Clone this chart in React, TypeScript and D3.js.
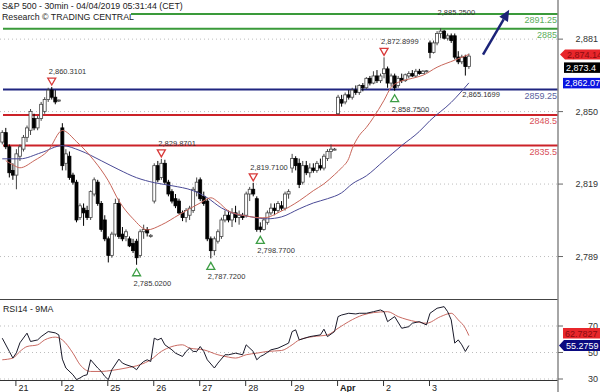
import React from 'react';
import * as d3 from 'd3';

// ---------- DATA ----------
// [open, high, low, close] per 30-min bar
const candles: [number, number, number, number][] = [
  [2837, 2842, 2836, 2841], [2841, 2843, 2834, 2835], [2835, 2836, 2822, 2824], [2825, 2828, 2821, 2823],
  // 21
  [2823, 2834, 2817, 2832], [2831, 2836, 2829, 2835], [2834, 2840, 2833, 2839], [2839, 2844, 2837, 2843],
  [2842, 2851, 2840, 2850], [2847, 2849, 2842, 2843], [2843, 2848, 2842, 2847], [2847, 2854, 2846, 2853],
  [2850, 2856, 2849, 2855], [2855, 2860, 2854, 2859], [2859, 2860.31, 2855, 2856], [2856, 2859, 2853, 2854],
  [2854.5, 2855, 2854, 2854.8],
  // 22
  [2843, 2845, 2825, 2827], [2828, 2834, 2825, 2832], [2831, 2833, 2821, 2822], [2823, 2824, 2819, 2820],
  [2820, 2821, 2803, 2804], [2805, 2811, 2804, 2810], [2809, 2811, 2801.5, 2807], [2808, 2810, 2804, 2805],
  [2805, 2816.5, 2804, 2816], [2815, 2822, 2814, 2821], [2820, 2821, 2810, 2811], [2811, 2812, 2799, 2800],
  [2804, 2806, 2795, 2796],
  // 25
  [2796, 2797, 2786, 2789], [2789, 2799, 2788, 2798], [2798, 2813, 2797, 2811], [2811, 2813, 2796, 2797],
  [2798, 2801, 2795, 2796], [2797, 2800, 2795, 2799], [2796, 2797, 2792.5, 2793], [2794, 2796, 2790, 2791],
  [2795, 2796, 2785.02, 2788], [2789, 2800, 2788, 2799], [2799, 2802, 2796, 2800], [2800, 2801, 2797, 2798.5],
  [2797, 2798, 2796.5, 2797.5],
  // 26
  [2812, 2828, 2811, 2827], [2827, 2829, 2820, 2821], [2822, 2829.87, 2821, 2828], [2828, 2829.5, 2819, 2820],
  [2820, 2821, 2814, 2815], [2816, 2817, 2811, 2812], [2813, 2815, 2809, 2810], [2812, 2813, 2806.5, 2807],
  [2807, 2808, 2803.5, 2805], [2805, 2809, 2803, 2808], [2806, 2810, 2804, 2809], [2808, 2818, 2807, 2817],
  [2816, 2822, 2814, 2820],
  // 27
  [2821, 2822, 2812, 2813], [2814, 2816, 2810, 2811], [2812, 2813, 2795, 2796], [2796, 2797, 2787.72, 2791],
  [2791, 2797, 2789, 2796], [2795, 2800, 2794, 2799], [2797, 2805, 2796, 2804], [2804, 2808, 2803, 2806],
  [2806, 2808, 2803, 2804], [2804, 2809, 2801, 2807], [2807, 2810, 2803, 2805], [2805, 2808, 2802, 2806],
  [2806, 2807, 2804, 2805],
  // 28
  [2806, 2816, 2805, 2815], [2815, 2818, 2812, 2817], [2817, 2819.71, 2814, 2815], [2813, 2814, 2799, 2800],
  [2801, 2803, 2798.77, 2800], [2800, 2805, 2799.5, 2804], [2803, 2808, 2802, 2807], [2807, 2811, 2806, 2809],
  [2809, 2811, 2806, 2808], [2808, 2812, 2807, 2811], [2810, 2812, 2808, 2809], [2809, 2816, 2808, 2815],
  [2815, 2817, 2813, 2816],
  // 29
  [2826, 2832, 2824, 2830], [2830, 2831, 2825, 2827], [2828, 2830, 2817.5, 2819], [2820, 2829, 2819, 2827],
  [2827, 2829, 2823, 2824], [2824, 2828, 2822, 2826], [2826, 2828, 2824, 2825], [2825, 2829, 2824, 2828],
  [2827, 2830, 2825, 2826], [2826, 2832, 2825, 2831], [2830, 2834, 2829, 2833], [2833, 2836, 2830, 2834],
  [2834, 2834.5, 2833.5, 2834],
  // Apr 1
  [2849, 2857, 2848.5, 2856], [2855, 2857, 2852, 2853.5], [2854, 2858, 2853, 2857], [2857, 2859, 2855, 2856],
  [2856, 2860, 2855, 2859], [2859, 2861, 2857, 2858], [2858, 2861.5, 2857, 2861], [2861, 2862, 2858.5, 2860],
  [2860, 2864.5, 2859.5, 2864], [2864, 2865, 2861, 2862], [2862, 2867, 2861.5, 2865], [2865, 2867.5, 2862, 2863],
  [2863, 2866, 2862, 2865],
  // 2
  [2866, 2872.9, 2864, 2868], [2868, 2869, 2860, 2862], [2862, 2866, 2860.5, 2865], [2865, 2866, 2858.75, 2860],
  [2861, 2865, 2860, 2864], [2864, 2866, 2862, 2863], [2863, 2866, 2862.5, 2865.5], [2865, 2867, 2864, 2866],
  [2866, 2867.5, 2864.5, 2865], [2865, 2868, 2864.5, 2867], [2867, 2868, 2865.5, 2866], [2866, 2867.5, 2866, 2867],
  [2867, 2867.5, 2866.5, 2867.2],
  // 3
  [2879, 2880, 2872.5, 2875], [2875, 2880, 2874.5, 2879], [2879, 2884, 2878, 2883], [2883, 2885.25, 2881, 2884],
  [2884, 2884.5, 2880.5, 2881], [2881, 2883, 2880, 2882], [2882, 2883, 2879, 2880], [2882, 2883, 2872, 2873],
  [2873, 2875.5, 2870, 2871], [2871, 2874, 2870, 2873], [2873, 2874, 2865.17, 2869], [2869, 2874.5, 2868, 2873.4],
];

const dayLabels = ['21', '22', '25', '26', '27', '28', '29', 'Apr', '2', '3'];
const dayStarts = [4, 17, 30, 43, 56, 69, 82, 95, 108, 121];
const monthLabels = ['Apr'];

const priceTicks = [2880.6, 2849.9, 2819.2, 2788.5];
const rsiTicks = [70, 50, 30];

const levelValues = [2891.25, 2885, 2859.25, 2848.5, 2835.5];
const levelLabels = ['2891.25', '2885', '2859.25', '2848.5', '2835.5'];
const levelKinds = ['resist', 'resist', 'pivot', 'support', 'support'];

// moving averages on price: [bar index, value]
const redMA: [number, number][] = [
  [1, 2829.1], [3, 2827.4], [5, 2826.1], [9, 2829.1], [13, 2833.4], [17, 2841.9], [21, 2837.2], [26, 2829.1],
  [30, 2820.6], [33, 2812.1], [37, 2804.5], [41, 2799.8], [45, 2801.9], [50, 2806.2], [56, 2811.2], [59, 2813.4],
  [61, 2811.7], [64, 2807.8], [69, 2805.7], [74, 2804.9], [79, 2807.8], [84, 2812.1], [88, 2816.4], [91, 2819.3],
  [94, 2823.2], [96, 2826.1], [98, 2830.0], [99, 2834.2], [101, 2839.8], [103, 2843.2], [105, 2847.4], [108, 2854.7],
  [110, 2860.2], [112, 2862.3], [116, 2864.0], [119, 2865.3], [123, 2868.7], [128, 2871.7], [132, 2874.14],
];
const blueMA: [number, number][] = [
  [0, 2829.9], [5, 2829.9], [11, 2832.5], [17, 2835.5], [22, 2833.4], [28, 2829.1], [33, 2825.3], [38, 2821.9],
  [43, 2819.8], [48, 2818.5], [54, 2816.4], [58, 2813.4], [62, 2809.1], [65, 2807.0], [69, 2805.7], [75, 2804.5],
  [79, 2805.3], [84, 2808.7], [88, 2811.2], [92, 2813.0], [96, 2815.5], [99, 2819.3], [103, 2822.7], [108, 2829.1],
  [113, 2835.5], [118, 2841.5], [121, 2846.1], [127, 2853.8], [132, 2862.07],
];

const rsi: [number, number][] = [
  [0, 60.8], [2, 50.8], [3, 45.8], [4, 49.8], [5, 57.3], [7, 64.6], [8, 58.3], [10, 59.5], [11, 62.0], [13, 65.8],
  [15, 64.8], [16, 63.3], [17, 45.0], [18, 38.3], [20, 33.2], [21, 29.5], [22, 30.8], [23, 32.5], [24, 33.2],
  [25, 44.5], [27, 38.3], [28, 35.7], [29, 32.0], [30, 29.5], [31, 37.0], [33, 45.0], [34, 42.0], [35, 40.8],
  [37, 39.0], [38, 37.0], [39, 40.8], [40, 43.2], [41, 44.5], [42, 43.2], [43, 60.8], [44, 59.5], [45, 60.8],
  [46, 55.8], [48, 52.0], [49, 49.5], [51, 47.0], [52, 50.8], [53, 53.3], [54, 50.8], [55, 50.8], [56, 54.5],
  [57, 50.8], [58, 44.5], [60, 38.3], [61, 42.0], [63, 48.3], [64, 48.3], [66, 49.5], [68, 48.3], [69, 55.8],
  [71, 50.8], [72, 44.5], [73, 47.0], [74, 48.3], [76, 52.0], [78, 53.3], [80, 55.8], [81, 57.1], [82, 65.8],
  [83, 67.1], [84, 59.5], [87, 62.0], [90, 63.3], [91, 67.6], [92, 62.0], [94, 65.8], [95, 77.1], [96, 78.3],
  [98, 79.6], [100, 79.1], [101, 79.6], [103, 79.6], [105, 80.8], [107, 82.1], [108, 80.8], [109, 73.3],
  [111, 77.1], [113, 68.3], [115, 69.5], [116, 72.1], [118, 73.3], [120, 70.8], [121, 79.6], [123, 83.4],
  [125, 84.6], [126, 80.8], [127, 74.6], [128, 57.1], [129, 59.5], [130, 55.8], [131, 50.8], [132, 55.2759],
];
const rsiMA: [number, number][] = [
  [0, 44.5], [3, 45.8], [5, 50.8], [7, 54.5], [10, 55.8], [12, 59.5], [15, 61.6], [17, 59.5], [20, 49.5],
  [22, 40.8], [25, 35.7], [28, 35.7], [31, 36.5], [35, 38.3], [39, 40.8], [42, 44.5], [45, 50.8], [48, 54.5],
  [51, 55.8], [53, 53.3], [57, 52.0], [61, 48.3], [64, 46.5], [66, 45.8], [69, 48.3], [72, 49.5], [75, 50.8],
  [79, 51.5], [82, 55.8], [84, 59.5], [88, 62.0], [92, 63.3], [95, 68.3], [98, 73.3], [102, 78.3], [105, 80.1],
  [109, 80.8], [112, 77.1], [117, 73.3], [120, 72.1], [124, 77.1], [127, 79.6], [129, 74.6], [131, 68.3],
  [132, 62.7827],
];

// swing points: bar index, value, type, whether a marker triangle is shown
const swingIdx = [14, 38, 45, 59, 71, 73, 108, 111, 124, 131];
const swingVal = [2860.3101, 2785.02, 2829.8701, 2787.72, 2819.71, 2798.77, 2872.8999, 2858.75, 2885.25, 2865.1699];
const swingType = ['high', 'low', 'high', 'low', 'high', 'low', 'high', 'low', 'high', 'low'];
const swingMarked = [true, true, true, true, true, true, true, true, false, false];

const arrowFrom: [number, number] = [136, 2874];
const arrowTo: [number, number] = [143.4, 2893];

const lastRedMA = 2874.14;
const lastClose = 2873.4;
const lastBlueMA = 2862.07;
const lastRsiMA = 62.7827;
const lastRsi = 55.2759;

const titleLines = ['S&P 500 - 30min - 04/04/2019 05:31:44 (CET)', 'Research \u00A9 TRADING CENTRAL'];
const rsiTitle = 'RSI14 - 9MA';

// ---------- CHART ----------
const W = 600;
const H = 392;
const AX = 558;
const FONT = '"Liberation Sans", Arial, sans-serif';

const levelStyle: Record<string, { line: string; text: string }> = {
  resist: { line: '#3a9a3a', text: '#5cae5c' },
  pivot: { line: '#1f2580', text: '#5a5f9e' },
  support: { line: '#cc2229', text: '#d9505a' },
};

export default function App() {
  const x = d3.scaleLinear().domain([4, 121]).range([16.4, 16.4 + 117 * 3.535]);
  const y = d3.scaleLinear().domain([2835.5, 2891.25]).range([145.6, 14]);
  const ry = d3.scaleLinear().domain([30, 70]).range([379, 326]);

  const maLine = d3.line<[number, number]>().x(d => x(d[0])).y(d => y(d[1])).curve(d3.curveMonotoneX);
  const rsiPath = d3.line<[number, number]>().x(d => x(d[0])).y(d => ry(d[1]));
  const rsiMaPath = d3.line<[number, number]>().x(d => x(d[0])).y(d => ry(d[1])).curve(d3.curveMonotoneX);

  const fmtSwing = d3.format(',.4f');
  const fmtTick = d3.format(',.0f');
  const fmtBox = d3.format(',');

  const bw = 3;

  // price tags
  const redY = y(lastRedMA);
  const blueY = y(lastBlueMA);
  const blackY = Math.max(y(lastClose), redY + 13);
  const rBlueY = ry(lastRsi);
  const rRedY = Math.min(ry(lastRsiMA), rBlueY - 12.5);

  // arrow
  const ax1 = x(arrowFrom[0]), ay1 = y(arrowFrom[1]);
  const ax2 = x(arrowTo[0]), ay2 = y(arrowTo[1]);
  const ang = Math.atan2(ay2 - ay1, ax2 - ax1);
  const hl = 11, hw = 5;
  const bx = ax2 - hl * Math.cos(ang), byy = ay2 - hl * Math.sin(ang);
  const head = [
    [ax2, ay2],
    [bx + hw * Math.sin(ang), byy - hw * Math.cos(ang)],
    [bx - hw * Math.sin(ang), byy + hw * Math.cos(ang)],
  ].map(p => p.join(',')).join(' ');

  return (
    <svg width={W} height={H} viewBox={`0 0 ${W} ${H}`}
      style={{ position: 'absolute', left: 0, top: 0, background: '#fff', fontFamily: FONT }}>
      <defs>
        <clipPath id="mainClip"><rect x={0} y={0} width={AX} height={299} /></clipPath>
        <clipPath id="rsiClip"><rect x={0} y={299.5} width={AX} height={80.5} /></clipPath>
      </defs>
      <rect x={0} y={0} width={W} height={H} fill="#fff" />

      {/* grid */}
      {priceTicks.map((t, i) => (
        <line key={'g' + i} x1={0} x2={AX} y1={y(t)} y2={y(t)} stroke="#bdbdbd" strokeWidth={1} strokeDasharray="1,3" />
      ))}
      {rsiTicks.map((t, i) => (
        <line key={'rg' + i} x1={0} x2={AX} y1={ry(t)} y2={ry(t)} stroke="#bdbdbd" strokeWidth={1} strokeDasharray="1,3" />
      ))}

      {/* level lines */}
      {levelValues.map((v, i) => (
        <g key={'lv' + i}>
          <line x1={3} x2={AX} y1={y(v)} y2={y(v)} stroke={levelStyle[levelKinds[i]].line} strokeWidth={2} />
          <text x={AX - 1} y={y(v) + 9} textAnchor="end" fontSize={9} fill={levelStyle[levelKinds[i]].text}>{levelLabels[i]}</text>
        </g>
      ))}

      {/* title */}
      <rect x={0} y={10.5} width={131} height={11} fill="#fff" />
      <text x={2} y={9} fontSize={8.8} fill="#222">{titleLines[0]}</text>
      <text x={2} y={19.5} fontSize={8.8} fill="#222">{titleLines[1]}</text>

      {/* candles */}
      <g clipPath="url(#mainClip)">
        {candles.map((c, i) => {
          const [o, h, l, cl] = c;
          const cx = x(i);
          const up = cl >= o;
          const top = y(Math.max(o, cl));
          const bot = y(Math.min(o, cl));
          const bh = Math.max(1, bot - top);
          return (
            <g key={'c' + i}>
              <line x1={cx} x2={cx} y1={y(h)} y2={y(l)} stroke={up ? '#444' : '#000'} strokeWidth={1} />
              <rect x={cx - bw / 2} y={top} width={bw} height={bh}
                fill={up ? '#fff' : '#000'} stroke={up ? '#444' : '#000'} strokeWidth={0.8} />
            </g>
          );
        })}
        <path d={maLine(blueMA) || ''} fill="none" stroke="#4a4a96" strokeWidth={1} />
        <path d={maLine(redMA) || ''} fill="none" stroke="#c8665a" strokeWidth={1} />
      </g>

      {/* swing markers */}
      {swingIdx.map((idx, k) => {
        const cx = x(idx);
        const vy = y(swingVal[k]);
        const isHigh = swingType[k] === 'high';
        const tri = isHigh
          ? `${cx - 4},${vy - 9} ${cx + 4},${vy - 9} ${cx},${vy - 2}`
          : `${cx - 4},${vy + 11} ${cx + 4},${vy + 11} ${cx},${vy + 4}`;
        return (
          <g key={'s' + k}>
            {swingMarked[k] && (
              <polygon points={tri} fill="#fff" stroke={isHigh ? '#d83a3a' : '#3e9e46'} strokeWidth={1.3} />
            )}
            <text x={cx - 3} y={isHigh ? vy - 13 : vy + 21} fontSize={7.5} fill="#333">{fmtSwing(swingVal[k])}</text>
          </g>
        );
      })}

      {/* trend arrow */}
      <line x1={ax1} y1={ay1} x2={bx} y2={byy} stroke="#1b2378" strokeWidth={2.5} />
      <polygon points={head} fill="#1b2378" />

      {/* RSI panel */}
      <line x1={0} x2={AX} y1={299.5} y2={299.5} stroke="#444" strokeWidth={1} />
      <text x={3} y={312} fontSize={8.8} fill="#222">{rsiTitle}</text>
      <g clipPath="url(#rsiClip)">
        <path d={rsiMaPath(rsiMA) || ''} fill="none" stroke="#c86a62" strokeWidth={1} />
        <path d={rsiPath(rsi) || ''} fill="none" stroke="#1a1a2a" strokeWidth={1} />
      </g>
      <line x1={0} x2={AX} y1={380.5} y2={380.5} stroke="#333" strokeWidth={1} />

      {/* right axis */}
      <line x1={AX} x2={AX} y1={0} y2={H} stroke="#888" strokeWidth={1.5} />
      {priceTicks.map((t, i) => (
        <g key={'pt' + i}>
          <line x1={AX} x2={AX + 5} y1={y(t)} y2={y(t)} stroke="#666" />
          <text x={598} y={y(t) + 3.2} textAnchor="end" fontSize={9} fill="#333">{fmtTick(t)}</text>
        </g>
      ))}
      {rsiTicks.map((t, i) => (
        <g key={'rt' + i}>
          <line x1={AX} x2={AX + 5} y1={ry(t)} y2={ry(t)} stroke="#666" />
          <text x={598} y={ry(t) + 3.2} textAnchor="end" fontSize={9} fill="#333">{t}</text>
        </g>
      ))}

      {/* price tags */}
      <polygon points={`${AX + 2},${redY} ${AX + 7},${redY - 5} 600,${redY - 5} 600,${redY + 5} ${AX + 7},${redY + 5}`} fill="#e8262b" />
      <text x={AX + 9} y={redY + 3.3} fontSize={9} fill="#8a0c10">{fmtBox(lastRedMA)}</text>
      <rect x={AX + 6} y={blackY - 5} width={W - AX - 6} height={10.5} fill="#000" />
      <text x={AX + 8} y={blackY + 3.5} fontSize={9} fill="#fff">{fmtBox(lastClose)}</text>
      <rect x={AX + 5} y={blueY - 5} width={W - AX - 5} height={10.5} fill="#0a14e0" />
      <text x={AX + 7} y={blueY + 3.5} fontSize={9} fill="#fff">{fmtBox(lastBlueMA)}</text>

      <rect x={AX + 5} y={rRedY - 5} width={W - AX - 5} height={10.5} fill="#e8262b" />
      <text x={AX + 7} y={rRedY + 3.5} fontSize={9} fill="#8a0c10">{String(lastRsiMA)}</text>
      <polygon points={`${AX + 1},${rBlueY} ${AX + 6},${rBlueY - 5.5} 600,${rBlueY - 5.5} 600,${rBlueY + 5.5} ${AX + 6},${rBlueY + 5.5}`} fill="#0a0a80" />
      <text x={AX + 8} y={rBlueY + 3.5} fontSize={9} fill="#fff">{String(lastRsi)}</text>

      {/* date axis */}
      {dayStarts.map((d, i) => (
        <g key={'d' + i}>
          <line x1={x(d) - 0.5} x2={x(d) - 0.5} y1={381} y2={386} stroke="#333" />
          <text x={x(d) + 2} y={391} fontSize={9} fill="#222"
            fontWeight={monthLabels.includes(dayLabels[i]) ? 'bold' : 'normal'}>{dayLabels[i]}</text>
        </g>
      ))}
    </svg>
  );
}
